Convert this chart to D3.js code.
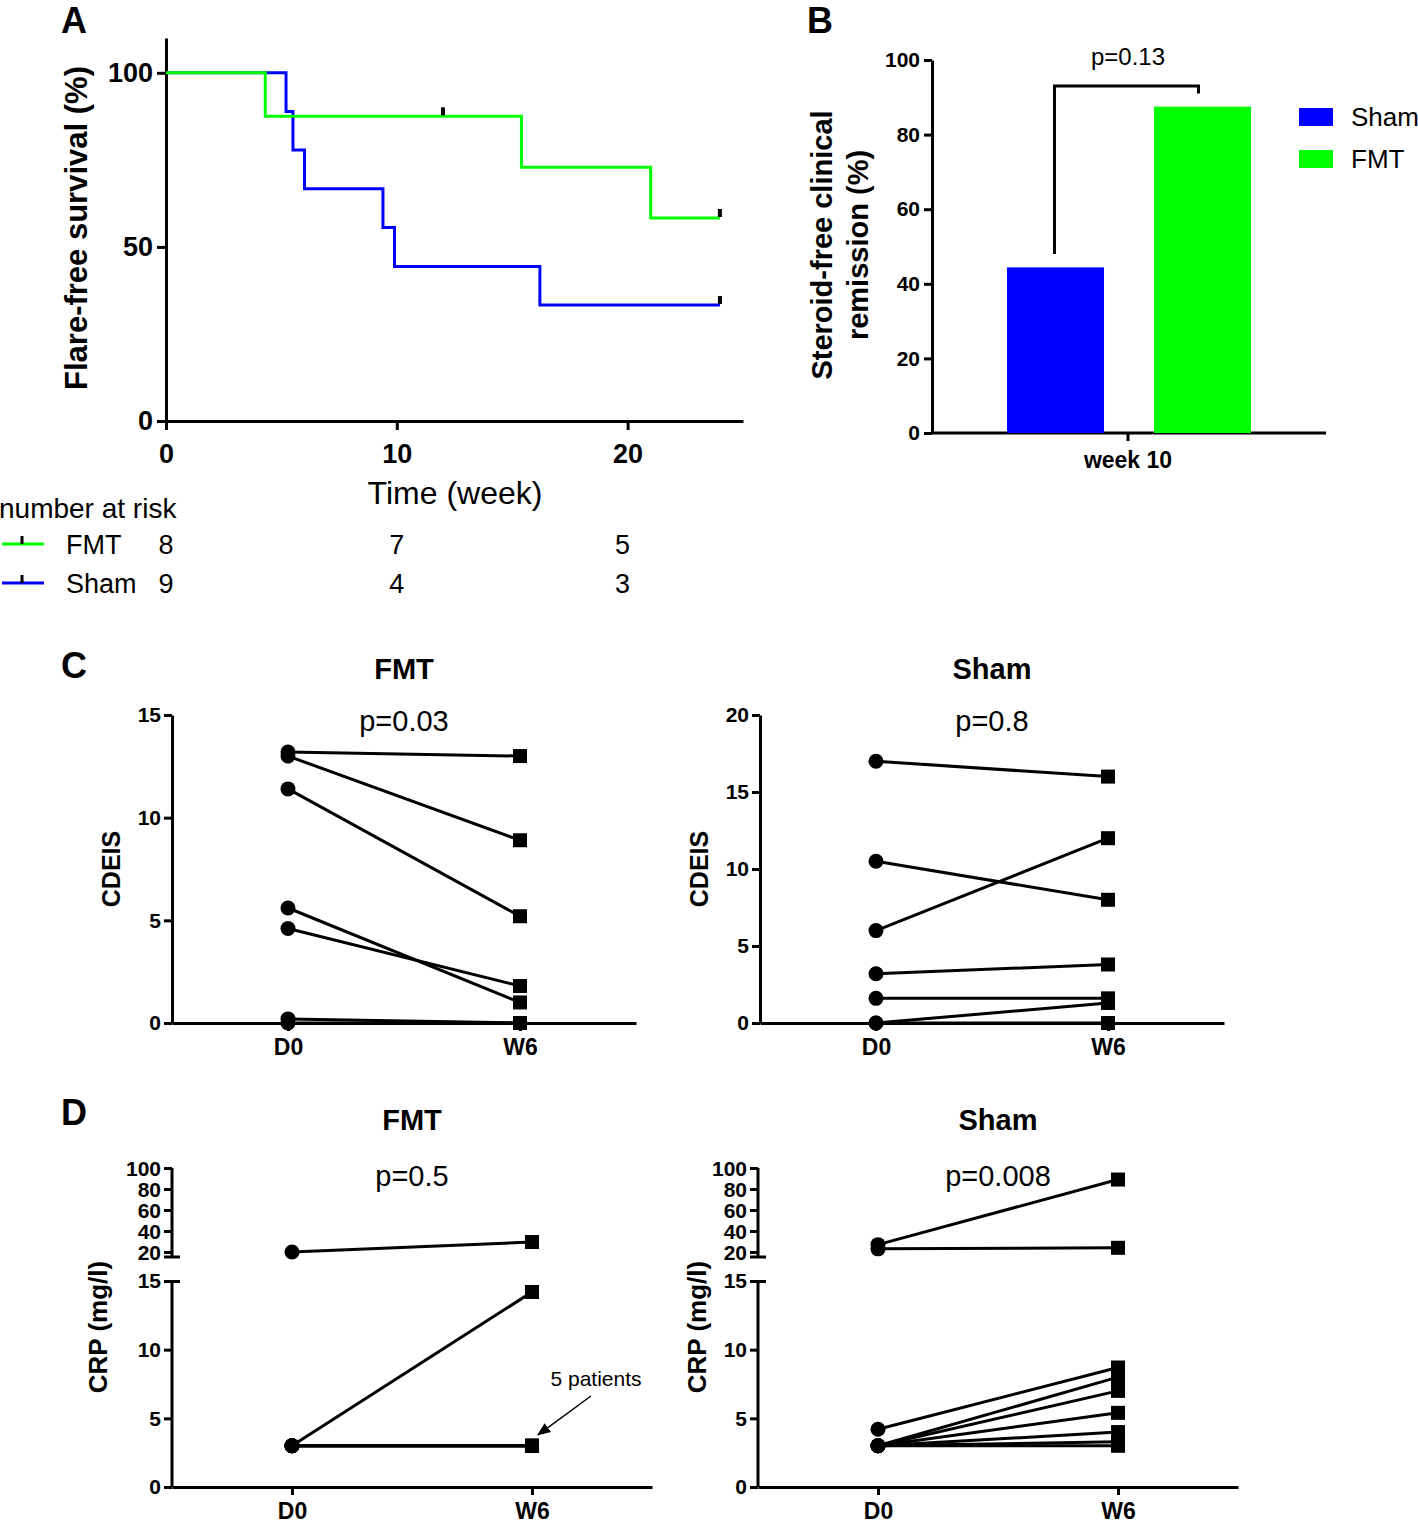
<!DOCTYPE html>
<html lang="en">
<head>
<meta charset="UTF-8">
<title>FMT figure</title>
<script src="https://d3js.org/d3.v7.min.js"></script>
<style>
  body { margin: 0; background: #fff; }
  svg text { font-family: "Liberation Sans", Arial, sans-serif; }
  .axis path, .axis line { stroke: #000; stroke-width: 3; }
</style>
</head>
<body>
<svg id="fig" width="1418" height="1523"></svg>
<script>
// ---- panel A: Kaplan-Meier ----
var kmTicks = [0, 10, 20];
var kmYTicks = [0, 50, 100];
var fmtKM = [[0, 100], [4.3, 87.5], [15.4, 72.9], [21.0, 58.3], [24, 58.3]];
var shamKM = [[0, 100], [5.2, 88.9], [5.5, 77.8], [6.0, 66.7], [9.4, 55.6], [9.9, 44.4], [16.2, 33.3], [24, 33.3]];
var fmtCensor = [[12, 87.5], [24, 58.3]];
var shamCensor = [[24, 33.3]];
var riskTimes = [0, 10, 20];
var riskFMT = [8, 7, 5];
var riskSham = [9, 4, 3];

// ---- panel B: remission ----
var groups = ["Sham", "FMT"];
var remission = [44.4, 87.5];
var remTicks = [0, 20, 40, 60, 80, 100];

// ---- panel C: CDEIS ----
var cFmtD0 = [13.2, 13.0, 11.4, 5.6, 4.6, 0.2, 0];
var cFmtW6 = [13.0, 8.9, 5.2, 1.0, 1.8, 0, 0];
var cShamD0 = [17, 10.5, 6, 3.2, 1.6, 0, 0];
var cShamW6 = [16, 8, 12, 3.8, 1.6, 1.3, 0];

// ---- panel D: CRP ----
var dFmtD0 = [20, 3, 3, 3, 3, 3, 3];
var dFmtW6 = [29.5, 14.2, 3, 3, 3, 3, 3];
var dShamD0 = [27, 23, 4.2, 3, 3, 3, 3, 3, 3];
var dShamW6 = [89, 24, 8.7, 8.0, 7.0, 5.4, 4.0, 3.3, 3.0];
var timepoints = ["D0", "W6"];

var GREEN = "#00ff00", BLUE = "#0000ff";
var svg = d3.select("#fig");

function styleAxis(g, size) {
	g.attr("class", "axis");
	g.selectAll("text")
		.attr("font-size", size)
		.attr("font-weight", "bold")
		.attr("fill", "#000");
}

function letter(t, x, y) {
	svg.append("text").attr("x", x).attr("y", y).attr("font-size", 36)
		.attr("font-weight", "bold").text(t);
}

// ================= A =================
(function() {
	var x = d3.scaleLinear().domain([0, 25]).range([166, 743]);
	var y = d3.scaleLinear().domain([0, 110]).range([421, 38]);
	letter("A", 61, 33);

	var ya = svg.append("g").attr("transform", "translate(166,0)")
		.call(d3.axisLeft(y).tickValues(kmYTicks).tickSize(9).tickSizeOuter(0).tickPadding(4));
	styleAxis(ya, 27);
	var xa = svg.append("g").attr("transform", "translate(0,421)")
		.call(d3.axisBottom(x).tickValues(kmTicks).tickSize(9).tickSizeOuter(0).tickPadding(14));
	styleAxis(xa, 27);

	var line = d3.line().x(function(d) { return x(d[0]); }).y(function(d) { return y(d[1]); })
		.curve(d3.curveStepAfter);
	svg.append("path").datum(shamKM).attr("d", line).attr("fill", "none")
		.attr("stroke", BLUE).attr("stroke-width", 3);
	svg.append("path").datum(fmtKM).attr("d", line).attr("fill", "none")
		.attr("stroke", GREEN).attr("stroke-width", 3);

	var cens = fmtCensor.concat(shamCensor);
	svg.selectAll(".cens").data(cens).enter().append("line")
		.attr("x1", function(d) { return x(d[0]); }).attr("x2", function(d) { return x(d[0]); })
		.attr("y1", function(d) { return y(d[1]) - 9; }).attr("y2", function(d) { return y(d[1]) - 1; })
		.attr("stroke", "#000").attr("stroke-width", 4);

	svg.append("text").attr("transform", "translate(87,228) rotate(-90)")
		.attr("text-anchor", "middle").attr("font-size", 31).attr("font-weight", "bold")
		.text("Flare-free survival (%)");
	svg.append("text").attr("x", 455).attr("y", 504).attr("text-anchor", "middle")
		.attr("font-size", 32).text("Time (week)");
	svg.append("text").attr("x", -1).attr("y", 518).attr("font-size", 28).text("number at risk");

	var rows = [{name: "FMT", col: GREEN, y: 544, n: riskFMT}, {name: "Sham", col: BLUE, y: 583, n: riskSham}];
	rows.forEach(function(r) {
		svg.append("line").attr("x1", 2).attr("x2", 44).attr("y1", r.y).attr("y2", r.y)
			.attr("stroke", r.col).attr("stroke-width", 3);
		svg.append("line").attr("x1", 22).attr("x2", 22).attr("y1", r.y - 8).attr("y2", r.y)
			.attr("stroke", "#000").attr("stroke-width", 3);
		svg.append("text").attr("x", 66).attr("y", r.y + 10).attr("font-size", 27).text(r.name);
		r.n.forEach(function(v, i) {
			svg.append("text").attr("x", x(riskTimes[i]) + (i == 2 ? -5 : 0)).attr("y", r.y + 10)
				.attr("text-anchor", "middle").attr("font-size", 27).text(v);
		});
	});
})();

// ================= B =================
(function() {
	var y = d3.scaleLinear().domain([0, 100]).range([433, 60]);
	var x = d3.scaleBand().domain(groups).range([1007, 1251]).paddingInner(0.34).paddingOuter(0);
	letter("B", 807, 33);

	var ya = svg.append("g").attr("transform", "translate(932,0)")
		.call(d3.axisLeft(y).tickValues(remTicks).tickSize(8).tickSizeOuter(0).tickPadding(4));
	styleAxis(ya, 21);
	svg.append("line").attr("x1", 932).attr("x2", 1326).attr("y1", 433).attr("y2", 433)
		.attr("stroke", "#000").attr("stroke-width", 3);
	svg.append("line").attr("x1", 1128).attr("x2", 1128).attr("y1", 433).attr("y2", 441)
		.attr("stroke", "#000").attr("stroke-width", 3);
	svg.append("text").attr("x", 1128).attr("y", 468).attr("text-anchor", "middle")
		.attr("font-size", 23).attr("font-weight", "bold").text("week 10");

	svg.selectAll(".bar").data(groups).enter().append("rect")
		.attr("x", function(d) { return x(d); }).attr("width", x.bandwidth())
		.attr("y", function(d, i) { return y(remission[i]); })
		.attr("height", function(d, i) { return 433 - y(remission[i]); })
		.attr("fill", function(d) { return d == "Sham" ? BLUE : GREEN; });

	var x1 = x("Sham") + x.bandwidth() / 2 - 1, x2 = x("FMT") + x.bandwidth() / 2 - 4;
	svg.append("path")
		.attr("d", "M" + x1 + "," + y(48) + "V" + y(93) + "H" + x2 + "V" + y(91))
		.attr("fill", "none").attr("stroke", "#000").attr("stroke-width", 3);
	svg.append("text").attr("x", 1128).attr("y", 65).attr("text-anchor", "middle")
		.attr("font-size", 24).text("p=0.13");

	svg.append("text").attr("transform", "translate(832,245) rotate(-90)")
		.attr("text-anchor", "middle").attr("font-size", 29).attr("font-weight", "bold")
		.text("Steroid-free clinical");
	svg.append("text").attr("transform", "translate(868,245) rotate(-90)")
		.attr("text-anchor", "middle").attr("font-size", 29).attr("font-weight", "bold")
		.text("remission (%)");

	groups.forEach(function(g, i) {
		var ly = 108 + i * 42;
		svg.append("rect").attr("x", 1299).attr("y", ly).attr("width", 34).attr("height", 18)
			.attr("fill", g == "Sham" ? BLUE : GREEN);
		svg.append("text").attr("x", 1351).attr("y", ly + 18).attr("font-size", 26).text(g);
	});
})();

// ================= C & D helpers =================
function markers(d0, w6, x, y) {
	var pairs = d0.map(function(v, i) { return [v, w6[i]]; });
	var g = svg.append("g");
	g.selectAll(".ln").data(pairs).enter().append("line")
		.attr("x1", x(0)).attr("x2", x(1))
		.attr("y1", function(d) { return y(d[0]); }).attr("y2", function(d) { return y(d[1]); })
		.attr("stroke", "#000").attr("stroke-width", 3);
	g.selectAll(".sq").data(pairs).enter().append("rect")
		.attr("x", x(1) - 7).attr("y", function(d) { return y(d[1]) - 7; })
		.attr("width", 14).attr("height", 14).attr("fill", "#000");
	g.selectAll(".ci").data(pairs).enter().append("circle")
		.attr("cx", x(0)).attr("cy", function(d) { return y(d[0]); })
		.attr("r", 7.5).attr("fill", "#000");
}

function xAxisCat(x, y0) {
	var xa = svg.append("g").attr("transform", "translate(0," + y0 + ")")
		.call(d3.axisBottom(x).tickValues([0, 1]).tickFormat(function(d) { return timepoints[d]; })
			.tickSize(8).tickSizeOuter(0).tickPadding(8));
	styleAxis(xa, 23);
}

function titles(title, p, cx, ty, py) {
	svg.append("text").attr("x", cx).attr("y", ty).attr("text-anchor", "middle")
		.attr("font-size", 29).attr("font-weight", "bold").text(title);
	svg.append("text").attr("x", cx).attr("y", py).attr("text-anchor", "middle")
		.attr("font-size", 29).text(p);
}

// ================= C =================
function cPanel(ax, d0, w6, ymax, yticks, title, p, labx) {
	var x = d3.scaleLinear().domain([-0.5, 1.5]).range([ax, ax + 464]);
	var y = d3.scaleLinear().domain([0, ymax]).range([1023, 715]);
	var ya = svg.append("g").attr("transform", "translate(" + ax + ",0)")
		.call(d3.axisLeft(y).tickValues(yticks).tickSize(8).tickSizeOuter(0).tickPadding(3));
	styleAxis(ya, 21);
	xAxisCat(x, 1023);
	markers(d0, w6, x, y);
	titles(title, p, x(0.5), 679, 731);
	svg.append("text").attr("transform", "translate(" + labx + ",869) rotate(-90)")
		.attr("text-anchor", "middle").attr("font-size", 25).attr("font-weight", "bold").text("CDEIS");
}
letter("C", 61, 678);
cPanel(172, cFmtD0, cFmtW6, 15, [0, 5, 10, 15], "FMT", "p=0.03", 120);
cPanel(760, cShamD0, cShamW6, 20, [0, 5, 10, 15, 20], "Sham", "p=0.8", 708);

// ================= D =================
function dPanel(ax, d0, w6, title, p, labx) {
	var x = d3.scaleLinear().domain([-0.5, 1.5]).range([ax, ax + 480]);
	var lo = d3.scaleLinear().domain([0, 15]).range([1487, 1281]);
	var hi = d3.scaleLinear().domain([20, 100]).range([1252, 1168]);
	var y = function(v) { return v <= 15 ? lo(v) : hi(v); };

	var la = svg.append("g").attr("transform", "translate(" + ax + ",0)")
		.call(d3.axisLeft(lo).tickValues([0, 5, 10, 15]).tickSize(8).tickSizeOuter(0).tickPadding(3));
	styleAxis(la, 21);
	la.select(".domain").attr("d", "M0,1487V1281");
	la.selectAll(".tick").filter(function(d) { return d == 15; }).select("line").attr("x2", 8).attr("x1", -8);
	var ha = svg.append("g").attr("transform", "translate(" + ax + ",0)")
		.call(d3.axisLeft(hi).tickValues([20, 40, 60, 80, 100]).tickSize(8).tickSizeOuter(0).tickPadding(3));
	styleAxis(ha, 21);
	ha.selectAll("text").attr("dy", "0.36em");
	ha.select(".domain").attr("d", "M0,1168V1257");
	svg.append("line").attr("x1", ax - 8).attr("x2", ax + 8).attr("y1", 1257).attr("y2", 1257)
		.attr("stroke", "#000").attr("stroke-width", 3);

	xAxisCat(x, 1487);
	markers(d0, w6, x, y);
	titles(title, p, x(0.5), 1130, 1186);
	svg.append("text").attr("transform", "translate(" + labx + ",1327) rotate(-90)")
		.attr("text-anchor", "middle").attr("font-size", 26).attr("font-weight", "bold").text("CRP (mg/l)");
	return {x: x, y: y};
}
letter("D", 61, 1125);
var dl = dPanel(172, dFmtD0, dFmtW6, "FMT", "p=0.5", 107);
dPanel(758, dShamD0, dShamW6, "Sham", "p=0.008", 706);

// annotation in FMT CRP panel
svg.append("defs").append("marker").attr("id", "arr").attr("viewBox", "0 0 10 10")
	.attr("refX", 9).attr("refY", 5).attr("markerWidth", 9).attr("markerHeight", 9).attr("orient", "auto")
	.append("path").attr("d", "M0,1L10,5L0,9Z").attr("fill", "#000");
svg.append("text").attr("x", 596).attr("y", 1386).attr("text-anchor", "middle")
	.attr("font-size", 21).text("5 patients");
svg.append("line").attr("x1", 591).attr("y1", 1396).attr("x2", dl.x(1) + 6).attr("y2", dl.y(3) - 11)
	.attr("stroke", "#000").attr("stroke-width", 1.5).attr("marker-end", "url(#arr)");
</script>
</body>
</html>
